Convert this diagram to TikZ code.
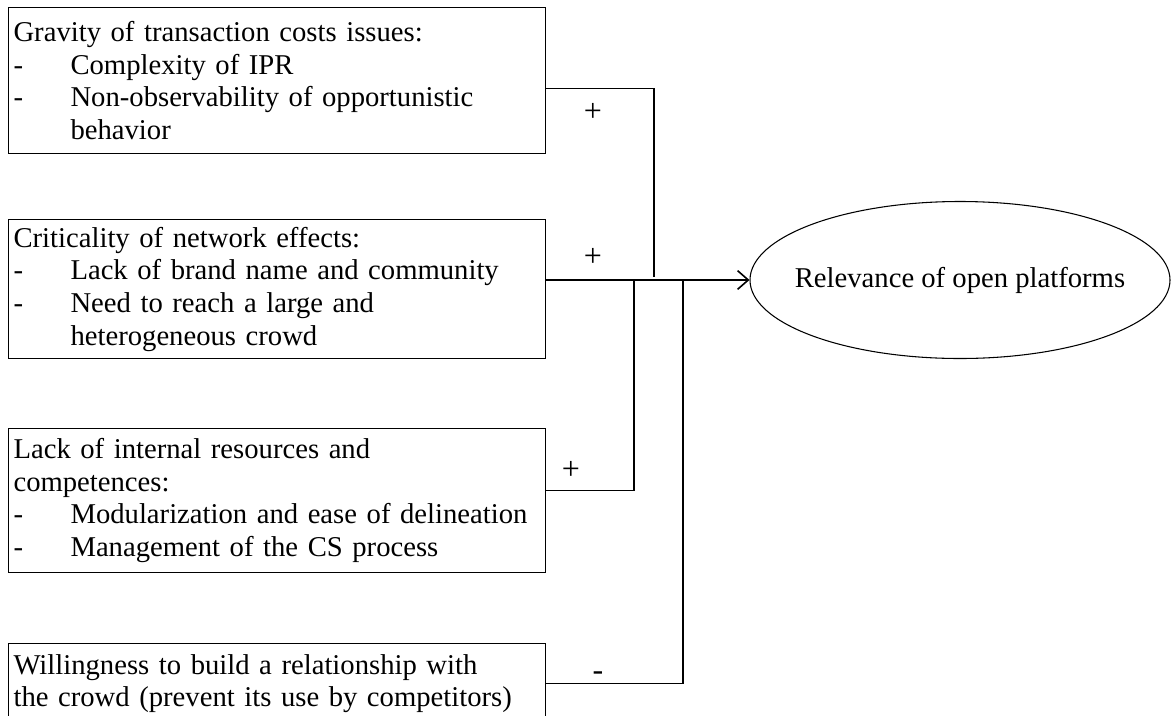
\documentclass[tikz,border=0pt]{standalone}
\usepackage{fontspec}
\setmainfont{Liberation Serif}
\usetikzlibrary{shapes.geometric, arrows.meta}

\newcommand{\dashitem}[1]{\makebox[42.75pt][l]{-}#1}
\newcommand{\dashcont}[1]{\hspace*{42.75pt}#1}

\begin{document}
\begin{tikzpicture}[x=0.75pt, y=-0.75pt,
	factor/.style={draw, rectangle, line width=0.8pt, anchor=north west, align=left,
		text width=395.25pt, inner xsep=3.75pt, inner ysep=0pt, minimum width=402.75pt,
		font=\fontsize{21.5}{24.5}\selectfont},
	sign/.style={font=\fontsize{24}{24}\selectfont},
	link/.style={line width=1.3pt}]
{
	\useasboundingbox (0,0) rectangle (1174,715);
	\clip (0,0) rectangle (1174,715);

	% the four factors
	\node[factor, minimum height=109.5pt] (Gravity) at (8,7)
		{Gravity of transaction costs issues:\\
		\dashitem{Complexity of IPR}\\
		\dashitem{Non-observability of opportunistic}\\
		\dashcont{behavior}};
	\node[factor, minimum height=104.25pt] (Network) at (8,219)
		{Criticality of network effects:\\
		\dashitem{Lack of brand name and community}\\
		\dashitem{Need to reach a large and}\\
		\dashcont{heterogeneous crowd}};
	\node[factor, minimum height=108pt] (Resources) at (8,428)
		{Lack of internal resources and\\
		competences:\\
		\dashitem{Modularization and ease of delineation}\\
		\dashitem{Management of the CS process}};
	\node[factor, minimum height=60pt] (Willingness) at (8,643)
		{Willingness to build a relationship with\\
		the crowd (prevent its use by competitors)};

	% the outcome
	\node[ellipse, draw, line width=0.8pt, inner sep=0pt, minimum width=315pt, minimum height=117.75pt,
		font=\fontsize{21.5}{24.5}\selectfont] (Relevance) at (960,280)
		{\makebox[0pt]{Relevance of open platforms}};

	\coordinate (JoinTop) at (654,277);
	\coordinate (JoinA) at (634,280);
	\coordinate (JoinB) at (683,280);

	% connectors
	\draw[link] ([yshift=-6pt]Gravity.east) -| (JoinTop);
	\draw[link, -{Straight Barb[length=8pt, width=14pt, line width=1.2pt]}] (Network.east |- Relevance.west) -- (Relevance.west);
	\draw[link] ([yshift=7.5pt]Resources.east) -| (JoinA);
	\draw[link] (Willingness.east) -| (JoinB);

	% signs
	\node[sign] (SignGravity) at (593,112) {+};
	\node[sign] (SignNetwork) at (593,257) {+};
	\node[sign] (SignResources) at (571,470) {+};
	\node[sign] (SignWillingness) at (598,676) {-};
}
\end{tikzpicture}
\end{document}
